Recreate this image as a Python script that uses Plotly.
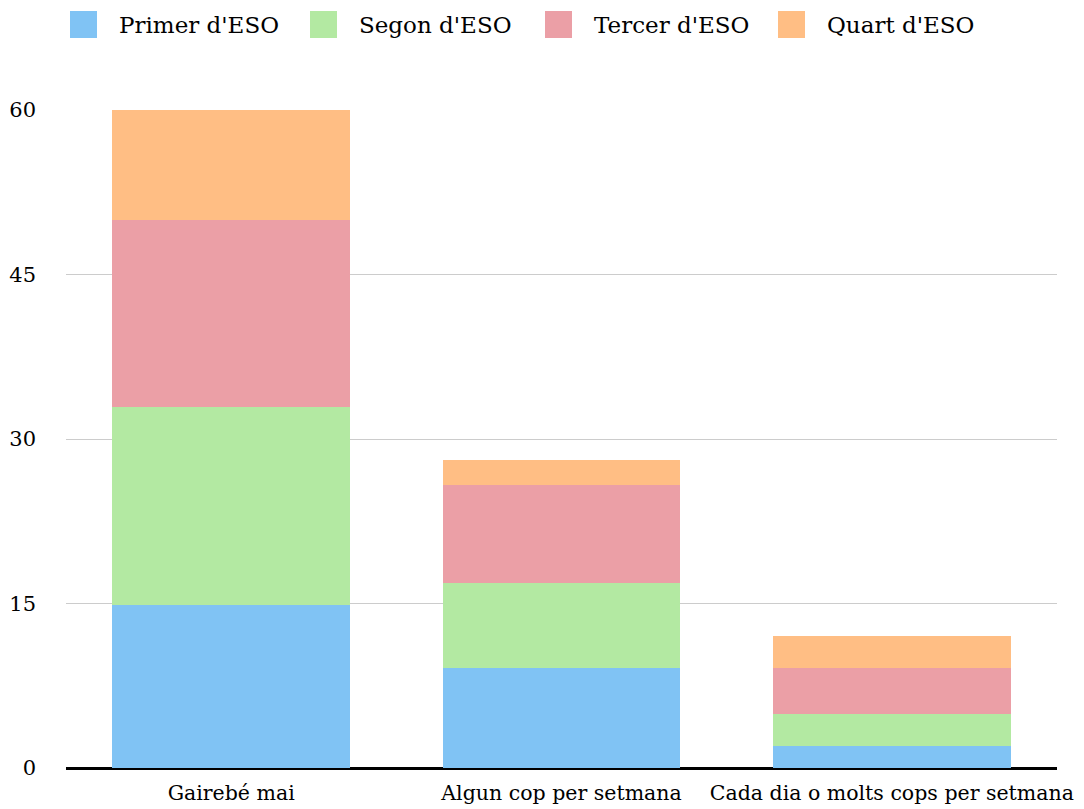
import plotly.graph_objects as go

categories = ["Gairebé mai", "Algun cop per setmana", "Cada dia o molts cops per setmana"]
series_names = ["Primer d'ESO", "Segon d'ESO", "Tercer d'ESO", "Quart d'ESO"]
primer = [14.9, 9.1, 2.05]
segon = [18.0, 7.8, 2.9]
tercer = [17.05, 8.9, 4.2]
quart = [10.05, 2.3, 2.9]
y_ticks = [0, 15, 30, 45, 60]

colors = ["#80C3F4", "#B3E9A2", "#EB9FA6", "#FFBE84"]
values = [primer, segon, tercer, quart]

fig = go.Figure()
for name, vals, col in zip(series_names, values, colors):
    fig.add_trace(go.Bar(x=categories, y=vals, name=name, showlegend=False,
                         marker=dict(color=col, line=dict(width=0))))

W, H = 1084, 809
ML, MR, MT, MB = 66, 27, 110, 41
pw, ph = W - ML - MR, H - MT - MB

def px_x(px):
    return (px - ML) / pw

def px_y(py):
    return (H - MB - py) / ph

font_family = "DejaVu Serif"

legend_sq_left = [70, 310, 545, 778]
for name, col, sx in zip(series_names, colors, legend_sq_left):
    fig.add_shape(type="rect", xref="paper", yref="paper",
                  x0=px_x(sx), x1=px_x(sx + 27), y0=px_y(38), y1=px_y(11),
                  fillcolor=col, line=dict(width=0))
    fig.add_annotation(xref="paper", yref="paper", x=px_x(sx + 49), y=px_y(25),
                       text=name, showarrow=False, xanchor="left", yanchor="middle",
                       xshift=-2,
                       font=dict(family=font_family, size=23, color="#000000"))

fig.update_layout(
    barmode="stack",
    bargap=0.28,
    width=W, height=H,
    margin=dict(l=ML, r=MR, t=MT, b=MB, autoexpand=False),
    paper_bgcolor="white", plot_bgcolor="white",
    font=dict(family=font_family, size=21, color="#000000"),
    showlegend=False,
    xaxis=dict(showgrid=False, showline=False, ticks="", ticklabelstandoff=10,
               automargin=False, tickfont=dict(size=20.5, family=font_family)),
    yaxis=dict(range=[0, 60], tickvals=y_ticks, showgrid=True, gridcolor="#cccccc",
               gridwidth=1, zeroline=True, zerolinecolor="#000000", zerolinewidth=3,
               automargin=False,
               ticks="", ticklabelstandoff=29, tickfont=dict(size=21, family=font_family)),
)
fig.write_html("out.html", config={"displayModeBar": False},
               post_script="document.body.style.margin='0';")
